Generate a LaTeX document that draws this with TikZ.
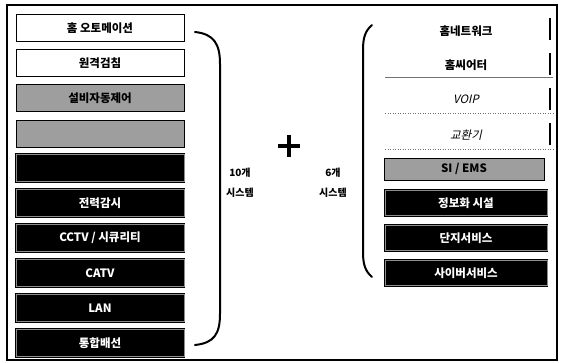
\documentclass[tikz,border=0pt]{standalone}
\usepackage{fontspec}
\setmainfont{Noto Sans CJK KR}
\newfontfamily\krslant[FakeSlant=0.22]{Noto Sans CJK KR}
\begin{document}
\begin{tikzpicture}[x=1pt,y=-1pt,
  box/.style={rectangle,inner sep=0pt,minimum height=27pt,font=\fontsize{11.5}{13}\selectfont\bfseries},
  lbox/.style={box,minimum width=168pt},
  rbox/.style={box,minimum width=162pt},
  whitebox/.style={draw=black,line width=1pt,fill=white},
  greybox/.style={draw=black,line width=0.8pt,fill=black!38,text=black},
  blackbox/.style={fill=black,draw=black,line width=1.1pt,double=black!45,double distance=0.5pt,text=white},
  plainbox/.style={box,minimum width=162pt,minimum height=22pt},
  rbar/.style={line width=1.4pt},
  rline/.style={black!55,line width=0.5pt},
  brace/.style={line width=2pt,line cap=round},
  cnt/.style={font=\fontsize{10}{11}\selectfont\bfseries}
]
\useasboundingbox (0,0) rectangle (562,363);
\draw[line width=1.2pt] (7,5) rectangle (557,360);

% left column
\node[lbox,whitebox] (l1) at (100,28) {홈 오토메이션};
\node[lbox,whitebox] (l2) at (100,63) {원격검침};
\node[lbox,greybox] (l3) at (100,98) {설비자동제어};
\node[lbox,greybox] (l4) at (100,134) {};
\node[lbox,blackbox] (l5) at (100,168) {};
\node[lbox,blackbox] (l6) at (100,203) {전력감시};
\node[lbox,blackbox] (l7) at (100,238) {CCTV / 시큐리티};
\node[lbox,blackbox] (l8) at (100,273) {CATV};
\node[lbox,blackbox] (l9) at (100,308) {LAN};
\node[lbox,blackbox] (l10) at (100,343) {통합배선};

% left group brace
\coordinate (b1a) at (195,32);
\coordinate (b1b) at (195,345);
\draw[brace] (b1a) .. controls (214,34) and (220,44) .. (220,64) -- (220,314) .. controls (220,334) and (214,343) .. (b1b);

% plus
\coordinate (pc) at (289,146);
\draw[line width=4pt] ([xshift=-11pt]pc) -- ([xshift=11pt]pc);
\draw[line width=4pt] ([yshift=-11pt]pc) -- ([yshift=11pt]pc);

\node[cnt] (c1a) at (240,173) {10개};
\node[cnt] (c1b) at (240,193) {시스템};
\node[cnt] (c2a) at (333,173) {6개};
\node[cnt] (c2b) at (333,193) {시스템};

% right group brace
\coordinate (b2a) at (372,25);
\coordinate (b2b) at (372,277);
\draw[brace] (b2a) .. controls (365,31) and (363,38) .. (363,50) -- (363,252) .. controls (363,264) and (365,271) .. (b2b);

% right column
\node[plainbox] (r1) at (466,31) {홈네트워크};
\node[plainbox] (r2) at (466,65) {홈씨어터};
\node[plainbox,font=\fontsize{11.5}{13}\selectfont\krslant] (r3) at (466,99) {VOIP};
\node[plainbox,font=\fontsize{11.5}{13}\selectfont\krslant] (r4) at (466,135) {교환기};
\draw[rbar] (550,18) -- (550,40);
\draw[rbar] (550,53) -- (550,75);
\draw[rbar] (550,88) -- (550,110);
\draw[rbar] (550,123) -- (550,145);
\draw[rline] (385,77) -- (553,77);
\draw[rline,dotted] (385,113) -- (553,113);
\draw[rline,dotted] (385,149) -- (553,149);

\node[rbox,greybox,minimum height=22pt,minimum width=160pt] (r5) at (464,169) {SI / EMS};
\node[rbox,blackbox,minimum height=25pt] (r6) at (466,203) {정보화 시설};
\node[rbox,blackbox,minimum height=25pt] (r7) at (466,238) {단지서비스};
\node[rbox,blackbox,minimum height=25pt] (r8) at (466,273) {사이버서비스};
\end{tikzpicture}
\end{document}
